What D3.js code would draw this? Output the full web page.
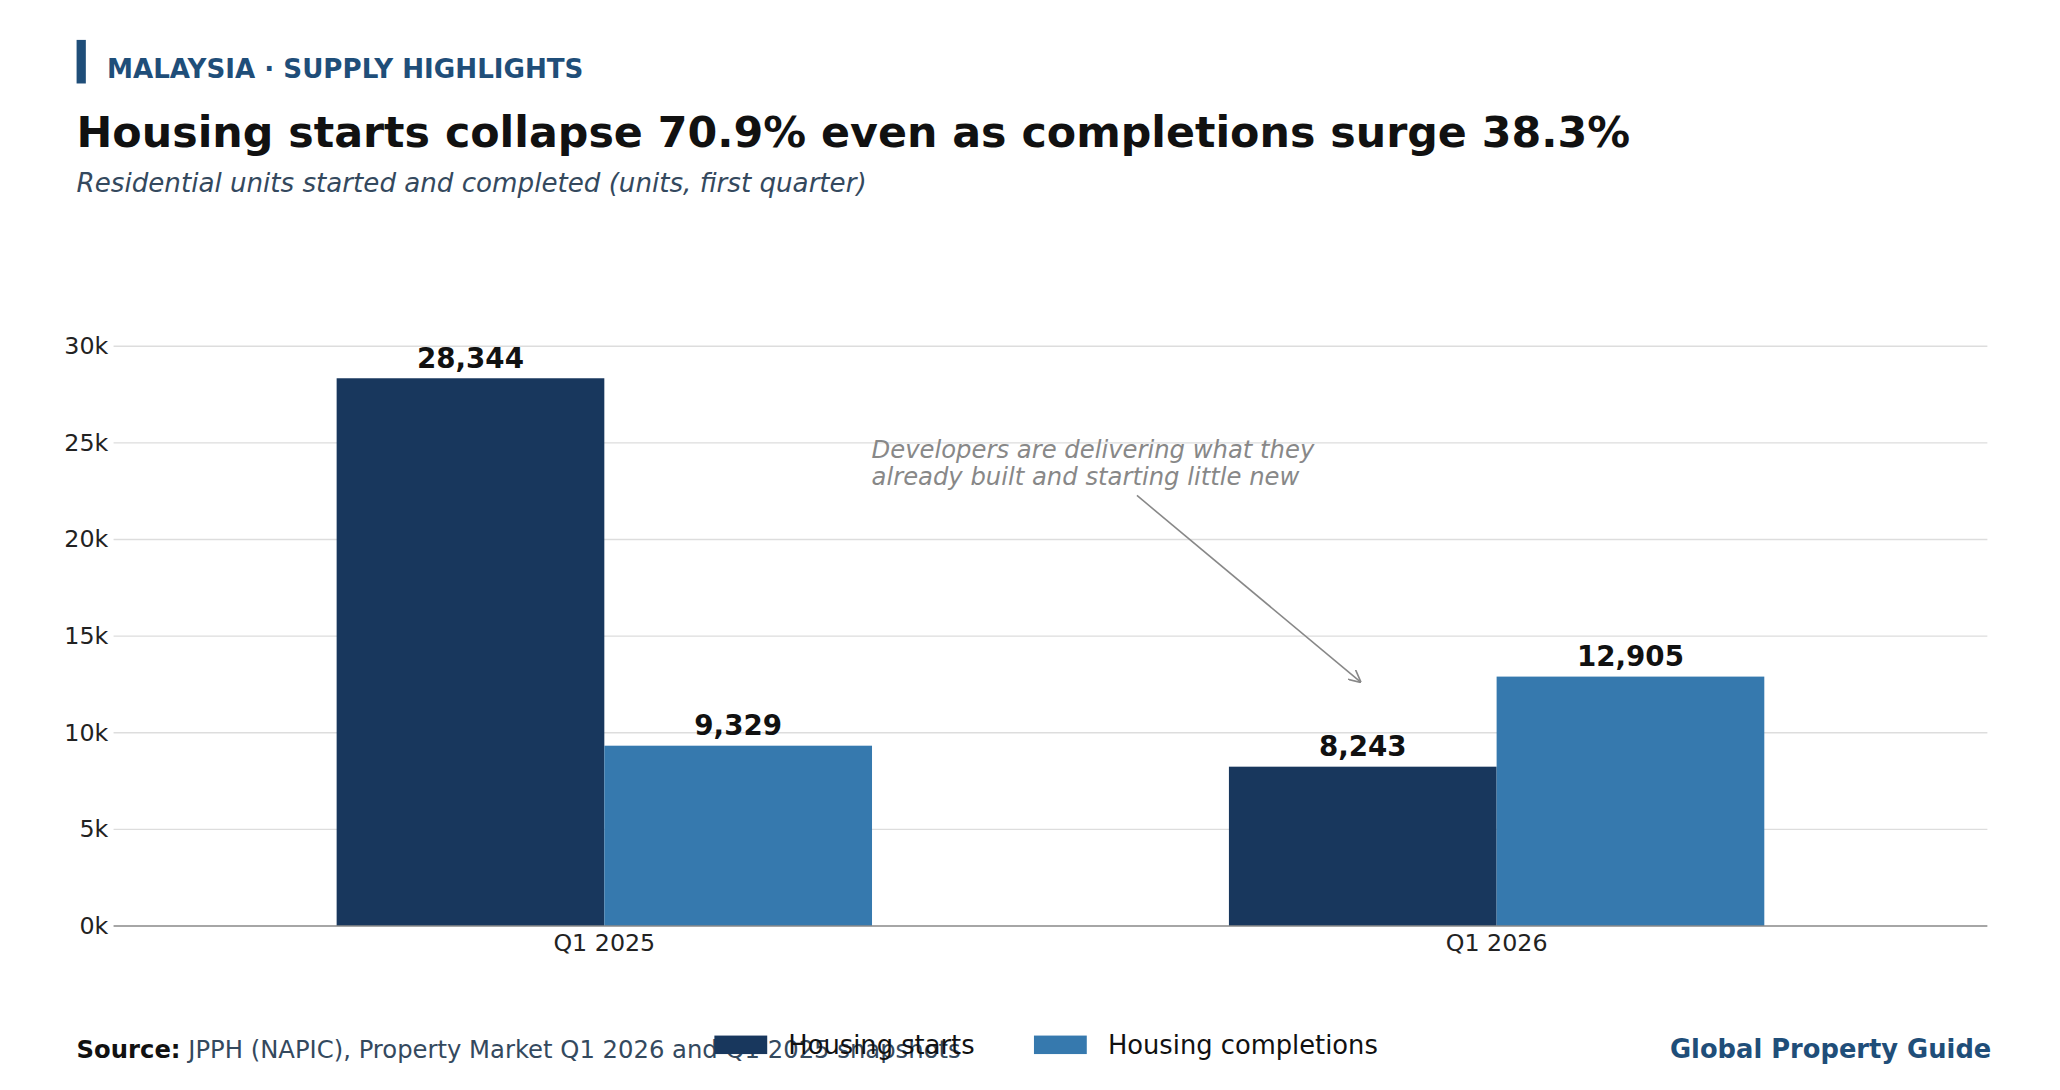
<!DOCTYPE html>
<html>
<head>
<meta charset="utf-8">
<script src="https://cdn.jsdelivr.net/npm/d3@7"></script>
<style>
  body { margin: 0; background: #fff; }
  text { font-family: "DejaVu Sans", sans-serif; }
</style>
</head>
<body>
<script>
// data
var periods = ["Q1 2025", "Q1 2026"];
var seriesNames = ["Housing starts", "Housing completions"];
var starts = [28344, 8243];
var completions = [9329, 12905];
var yTicks = [0, 5000, 10000, 15000, 20000, 25000, 30000];
var colors = ["#18375d", "#3679ae"];

var W = 1560, H = 825;
var svg = d3.select("body").append("svg")
    .attr("width", 2060).attr("height", 1090)
    .attr("viewBox", "0 0 " + W + " " + H);

// header
svg.append("rect").attr("x", 58).attr("y", 30).attr("width", 7).attr("height", 33).attr("fill", "#1f4e79");
svg.append("text").attr("x", 81).attr("y", 59).text("MALAYSIA · SUPPLY HIGHLIGHTS")
    .style("font-size", "19.8px").style("font-weight", "bold").attr("fill", "#1f4e79");
svg.append("text").attr("x", 58).attr("y", 111).text("Housing starts collapse 70.9% even as completions surge 38.3%")
    .style("font-size", "32.4px").style("font-weight", "bold").attr("fill", "#111");
svg.append("text").attr("x", 58).attr("y", 145).text("Residential units started and completed (units, first quarter)")
    .style("font-size", "19.8px").style("font-style", "italic").attr("fill", "#34495e");

var plotL = 86, plotR = 1505, plotT = 262, plotB = 701;
var x = d3.scaleBand().domain(periods).range([plotL, plotR]).paddingInner(0.4).paddingOuter(0.25);
var x1 = d3.scaleBand().domain(seriesNames).range([0, x.bandwidth()]);
var y = d3.scaleLinear().domain([0, 30000]).range([plotB, plotT]);

// grid
svg.append("g").selectAll("line").data(yTicks.slice(1)).enter().append("line")
    .attr("x1", plotL).attr("x2", plotR)
    .attr("y1", function(d) { return y(d); }).attr("y2", function(d) { return y(d); })
    .attr("stroke", "#ddd");

svg.selectAll(".ytick").data(yTicks).enter().append("text")
    .attr("x", 82).attr("y", function(d) { return y(d) + 6; })
    .attr("text-anchor", "end").style("font-size", "18px").attr("fill", "#222")
    .text(function(d) { return (d / 1000) + "k"; });

var rows = [];
periods.forEach(function(p, i) {
    rows.push({ p: p, s: seriesNames[0], v: starts[i], c: colors[0] });
    rows.push({ p: p, s: seriesNames[1], v: completions[i], c: colors[1] });
});

svg.selectAll(".bar").data(rows).enter().append("rect")
    .attr("x", function(d) { return x(d.p) + x1(d.s); })
    .attr("y", function(d) { return y(d.v); })
    .attr("width", x1.bandwidth())
    .attr("height", function(d) { return plotB - y(d.v); })
    .attr("fill", function(d) { return d.c; });

svg.selectAll(".lbl").data(rows).enter().append("text")
    .attr("x", function(d) { return x(d.p) + x1(d.s) + x1.bandwidth() / 2; })
    .attr("y", function(d) { return y(d.v) - 8; })
    .attr("text-anchor", "middle").style("font-size", "21px").style("font-weight", "bold").attr("fill", "#111")
    .text(function(d) { return d3.format(",")(d.v); });

// x axis
svg.append("line").attr("x1", plotL).attr("x2", plotR).attr("y1", plotB).attr("y2", plotB).attr("stroke", "#888");
svg.selectAll(".xl").data(periods).enter().append("text")
    .attr("x", function(d) { return x(d) + x.bandwidth() / 2; }).attr("y", 720)
    .attr("text-anchor", "middle").style("font-size", "18px").attr("fill", "#222")
    .text(function(d) { return d; });

// annotation
svg.append("defs").append("marker").attr("id", "arr").attr("viewBox", "0 0 10 10")
    .attr("refX", 9).attr("refY", 5).attr("markerWidth", 8).attr("markerHeight", 8).attr("orient", "auto")
    .append("path").attr("d", "M0,0 L10,5 L0,10").attr("fill", "none").attr("stroke", "#888").attr("stroke-width", 1.3);
svg.append("line").attr("x1", 861).attr("y1", 375).attr("x2", 1030).attr("y2", 516)
    .attr("stroke", "#888").attr("stroke-width", 1.2).attr("marker-end", "url(#arr)");
var ann = svg.append("text").attr("x", 660).attr("y", 347).style("font-size", "18.4px")
    .style("font-style", "italic").attr("fill", "#888");
ann.append("tspan").attr("x", 660).text("Developers are delivering what they");
ann.append("tspan").attr("x", 660).attr("dy", 20).text("already built and starting little new");

// footer
var src = svg.append("text").attr("x", 58).attr("y", 801).style("font-size", "18.4px").attr("fill", "#34495e");
src.append("tspan").style("font-weight", "bold").attr("fill", "#111").text("Source:");
src.append("tspan").text(" JPPH (NAPIC), Property Market Q1 2026 and Q1 2025 snapshots");
svg.append("text").attr("x", 1508).attr("y", 801).attr("text-anchor", "end").style("font-size", "19.5px")
    .style("font-weight", "bold").attr("fill", "#1f4e79").text("Global Property Guide");

// legend
var lx = [541, 783];
seriesNames.forEach(function(s, i) {
    svg.append("rect").attr("x", lx[i]).attr("y", 784).attr("width", 40).attr("height", 14).attr("fill", colors[i]);
    svg.append("text").attr("x", lx[i] + 56).attr("y", 798).style("font-size", "19.5px").attr("fill", "#111").text(s);
});
</script>
</body>
</html>
